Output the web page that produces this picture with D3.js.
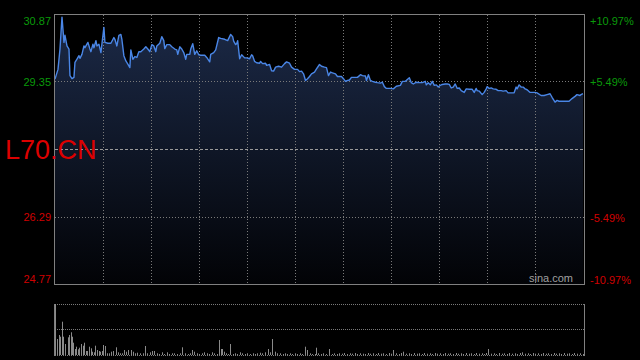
<!DOCTYPE html>
<html>
<head>
<meta charset="utf-8">
<script src="https://cdn.jsdelivr.net/npm/d3@7"></script>
<style>
  html, body { margin: 0; padding: 0; background: #000; }
  svg { display: block; }
  text { font-family: Arial, "Liberation Sans", sans-serif; }
</style>
</head>
<body>
<svg id="chart" width="640" height="360"></svg>
<script>
// Intraday price, [minute, price]
const prices = [
  [0,29.41],[3,29.63],[5,30.09],[7,30.81],[9,30.24],[10,30.40],[12,30.16],[14,30.09],[15,29.49],[17,29.42],
  [19,29.45],[20,29.79],[22,29.86],[24,29.94],[25,29.88],[27,29.97],[29,30.16],[30,30.12],[33,30.24],[35,30.09],
  [36,30.03],[38,30.20],[39,30.12],[41,30.28],[42,30.16],[44,30.20],[46,30.01],[47,30.20],[49,30.58],[50,30.24],
  [53,30.22],[56,30.22],[59,30.35],[60,30.31],[62,30.16],[64,30.40],[66,30.42],[67,30.31],[69,29.94],[71,29.82],
  [73,29.75],[75,29.67],[76,30.07],[78,29.86],[80,29.92],[82,29.90],[84,30.03],[86,30.03],[89,30.09],[91,30.14],
  [93,30.09],[95,30.03],[97,30.19],[99,30.16],[101,30.03],[102,30.16],[105,30.22],[107,30.37],[109,30.28],[110,30.10],
  [112,30.19],[115,30.19],[117,30.14],[120,30.09],[122,30.07],[123,29.97],[125,30.14],[127,30.09],[129,30.01],[131,29.86],
  [132,29.97],[135,29.97],[136,30.09],[138,30.21],[140,29.97],[142,30.05],[144,29.96],[146,29.95],[150,29.95],[152,29.90],
  [155,29.80],[156,29.97],[159,30.01],[161,30.07],[164,30.35],[166,30.33],[170,30.31],[173,30.28],[176,30.42],[178,30.37],
  [179,30.27],[181,30.19],[182,30.21],[183,30.28],[185,29.87],[187,29.96],[190,29.89],[192,29.89],[195,29.87],[197,29.96],
  [198,29.94],[200,29.81],[202,29.78],[205,29.77],[206,29.81],[208,29.76],[211,29.77],[212,29.72],[215,29.74],[217,29.60],
  [219,29.59],[221,29.68],[224,29.70],[227,29.68],[230,29.76],[232,29.80],[235,29.77],[237,29.68],[240,29.63],[243,29.63],
  [245,29.58],[247,29.59],[249,29.53],[251,29.38],[253,29.42],[255,29.47],[257,29.53],[260,29.57],[262,29.64],[265,29.74],
  [267,29.70],[270,29.68],[272,29.67],[274,29.49],[276,29.57],[278,29.55],[281,29.53],[283,29.47],[287,29.47],[289,29.42],
  [291,29.36],[293,29.38],[295,29.39],[297,29.45],[300,29.45],[303,29.45],[306,29.51],[308,29.49],[311,29.48],[312,29.38],
  [314,29.51],[316,29.38],[318,29.36],[321,29.34],[323,29.33],[326,29.32],[328,29.34],[330,29.24],[332,29.20],[336,29.20],
  [339,29.19],[342,29.25],[346,29.27],[348,29.36],[351,29.36],[355,29.44],[357,29.33],[359,29.30],[362,29.34],[365,29.33],
  [368,29.33],[371,29.36],[372,29.28],[374,29.33],[376,29.28],[378,29.36],[380,29.27],[382,29.28],[384,29.23],[386,29.27],
  [388,29.29],[391,29.30],[393,29.30],[395,29.29],[397,29.21],[399,29.23],[401,29.30],[403,29.20],[405,29.21],[407,29.15],
  [410,29.11],[412,29.19],[415,29.18],[418,29.18],[420,29.11],[422,29.20],[423,29.15],[425,29.14],[428,29.06],[430,29.11],
  [432,29.19],[433,29.24],[435,29.20],[437,29.21],[439,29.19],[442,29.18],[444,29.15],[447,29.15],[449,29.14],[452,29.15],
  [454,29.10],[457,29.10],[460,29.10],[462,29.23],[463,29.19],[465,29.28],[467,29.23],[469,29.23],[471,29.19],[473,29.17],
  [476,29.11],[478,29.11],[481,29.11],[483,29.10],[487,29.04],[490,29.04],[493,29.06],[496,29.08],[498,29.00],[501,28.89],
  [503,28.93],[505,28.91],[508,28.91],[512,28.91],[515,28.91],[518,28.97],[521,29.02],[523,29.06],[526,29.04],[527,29.06],
  [529,29.08]
];

// Volume, [minute, volume]
const volumes = [
  [0,510],[3,160],[5,200],[6,183],[8,333],[9,183],[11,110],[14,177],[15,200],[17,227],
  [18,183],[19,123],[21,60],[22,83],[24,57],[25,73],[27,110],[29,93],[30,123],[32,40],
  [33,40],[35,83],[37,67],[38,33],[40,27],[41,93],[43,50],[45,40],[46,33],[48,40],
  [49,100],[51,90],[53,17],[55,17],[57,33],[59,40],[62,77],[64,27],[66,17],[68,17],
  [70,50],[72,33],[74,50],[77,50],[79,33],[81,17],[83,23],[86,17],[89,17],[91,90],
  [93,17],[96,27],[98,40],[100,40],[103,17],[105,10],[108,27],[110,10],[113,27],[115,10],
  [118,17],[120,17],[123,10],[126,17],[128,77],[131,17],[134,10],[136,17],[138,50],[140,33],
  [143,17],[145,10],[148,17],[150,27],[153,17],[155,10],[158,27],[160,17],[163,10],[165,150],
  [167,60],[168,60],[170,33],[172,17],[174,10],[176,110],[179,10],[181,17],[183,10],[186,27],
  [188,17],[191,10],[193,17],[196,10],[199,17],[201,10],[203,17],[206,23],[208,17],[211,27],
  [214,60],[216,27],[218,160],[221,33],[223,17],[226,17],[229,10],[231,17],[233,10],[236,17],
  [238,10],[241,17],[243,10],[246,17],[248,10],[251,83],[253,50],[256,17],[258,10],[261,10],
  [262,73],[264,17],[267,10],[269,17],[272,10],[275,60],[278,10],[280,17],[283,10],[285,17],
  [288,13],[290,20],[293,10],[296,17],[298,13],[301,20],[303,10],[306,17],[309,13],[311,10],
  [314,20],[316,13],[319,17],[322,10],[324,20],[327,13],[329,17],[332,10],[335,20],[337,13],
  [339,50],[342,17],[345,10],[347,20],[349,33],[352,13],[355,17],[357,10],[360,20],[363,13],
  [365,17],[368,10],[370,20],[373,13],[376,17],[378,10],[381,20],[383,13],[386,17],[389,10],
  [391,20],[394,13],[396,17],[399,10],[402,20],[404,13],[407,17],[409,10],[412,20],[415,13],
  [417,17],[420,10],[422,20],[425,13],[428,17],[430,10],[432,20],[434,60],[437,13],[440,17],
  [442,10],[445,20],[448,13],[450,17],[453,10],[455,20],[458,13],[461,17],[463,10],[466,20],
  [468,27],[471,13],[474,17],[476,10],[479,20],[481,13],[484,17],[487,10],[489,20],[492,13],
  [494,17],[497,10],[500,20],[502,13],[505,17],[507,10],[510,20],[513,13],[515,17],[518,10],
  [520,20],[523,13],[526,17],[529,10]
];

// Axis ticks
const priceTicks = [30.87, 29.35, 27.82, 26.29, 24.77];
const priceLabels = ['30.87', '29.35', '', '26.29', '24.77'];
const pctLabels = ['+10.97%', '+5.49%', '', '-5.49%', '-10.97%'];
const symbol = 'L70.CN';
const totalMinutes = 530;
const gridColumns = 11;
const volumeMax = 510;

const svg = d3.select('#chart');

// Scales
const x = d3.scaleLinear().domain([0, totalMinutes]).range([55, 584]);
const y = d3.scaleLinear().domain([24.77, 30.87]).range([284.5, 14.5]);
const yVol = d3.scaleLinear().domain([0, volumeMax]).range([355, 304]);

const upColor = '#0a9a0a';
const downColor = '#d00000';

// Gradient for the area under the line
const defs = svg.append('defs');
const grad = defs.append('linearGradient')
  .attr('id', 'area-grad')
  .attr('gradientUnits', 'userSpaceOnUse')
  .attr('x1', 0).attr('y1', 14)
  .attr('x2', 0).attr('y2', 284);
grad.append('stop').attr('offset', '0%').attr('stop-color', '#1c2a48');
grad.append('stop').attr('offset', '100%').attr('stop-color', '#020306');

// Area + line
const area = d3.area()
  .x(d => x(d[0]))
  .y0(y(24.77))
  .y1(d => y(d[1]));

svg.append('path')
  .datum(prices)
  .attr('d', area)
  .attr('fill', 'url(#area-grad)');

// Gridlines
const gridG = svg.append('g').attr('stroke', '#7a7a7a').attr('stroke-width', 1);

d3.range(1, gridColumns).forEach(k => {
  const gx = Math.floor(x(k * totalMinutes / gridColumns)) + 0.5;
  gridG.append('line')
    .attr('x1', gx).attr('x2', gx)
    .attr('y1', 15).attr('y2', 284)
    .attr('stroke-dasharray', '1,2');
});

priceTicks.slice(1, -1).forEach((v, i) => {
  const gy = Math.floor(y(v)) + 0.5;
  gridG.append('line')
    .attr('x1', 55).attr('x2', 584)
    .attr('y1', gy).attr('y2', gy)
    .attr('stroke', i === 1 ? '#9a9a9a' : '#7a7a7a')
    .attr('stroke-dasharray', i === 1 ? '3,2' : '1,2');
});

const line = d3.line()
  .x(d => x(d[0]))
  .y(d => y(d[1]));

svg.append('path')
  .datum(prices)
  .attr('d', line)
  .attr('fill', 'none')
  .attr('stroke', '#4a86e6')
  .attr('stroke-width', 1.4)
  .attr('stroke-linejoin', 'round');

// Frame
svg.append('rect')
  .attr('x', 54.5).attr('y', 14.5)
  .attr('width', 530).attr('height', 270)
  .attr('fill', 'none')
  .attr('stroke', '#808080');

// Left price labels
svg.append('g')
  .selectAll('text')
  .data(priceTicks)
  .join('text')
  .attr('x', 51)
  .attr('y', (d, i) => y(d) + (i === 0 ? 6 : i === priceTicks.length - 1 ? -6 : 0))
  .attr('text-anchor', 'end')
  .attr('dominant-baseline', 'central')
  .attr('font-size', '11px')
  .attr('fill', (d, i) => i < 2 ? upColor : downColor)
  .text((d, i) => priceLabels[i]);

// Right percent labels
svg.append('g')
  .selectAll('text')
  .data(priceTicks)
  .join('text')
  .attr('x', 590)
  .attr('y', (d, i) => y(d) + (i === 0 ? 6 : i === priceTicks.length - 1 ? -5 : 0.5))
  .attr('text-anchor', 'start')
  .attr('dominant-baseline', 'central')
  .attr('font-size', '11px')
  .attr('fill', (d, i) => i < 2 ? upColor : downColor)
  .text((d, i) => pctLabels[i]);

// Symbol
svg.append('text')
  .attr('x', 5)
  .attr('y', 159)
  .attr('font-size', '27px')
  .attr('fill', '#dd0000')
  .text(symbol);

// Watermark
svg.append('text')
  .attr('x', 573)
  .attr('y', 282)
  .attr('text-anchor', 'end')
  .attr('font-size', '11px')
  .attr('fill', '#a0a0a0')
  .text('sina.com');

// Volume panel
const volG = svg.append('g');

[304, 329.5, 355].forEach(v => {
  volG.append('line')
    .attr('x1', 55).attr('x2', 584)
    .attr('y1', Math.floor(v) + 0.5).attr('y2', Math.floor(v) + 0.5)
    .attr('stroke', '#7a7a7a')
    .attr('stroke-dasharray', '1,1');
});

volG.selectAll('.vol-bar')
  .data(volumes)
  .join('rect')
  .attr('class', 'vol-bar')
  .attr('x', d => Math.floor(x(d[0])))
  .attr('y', d => yVol(d[1]))
  .attr('width', 1)
  .attr('height', d => yVol(0) - yVol(d[1]))
  .attr('fill', '#8a8a8a');

[54.5, 584.5].forEach(vx => {
  volG.append('line')
    .attr('x1', vx).attr('x2', vx)
    .attr('y1', 304).attr('y2', 356)
    .attr('stroke', '#808080');
});
</script>
</body>
</html>
